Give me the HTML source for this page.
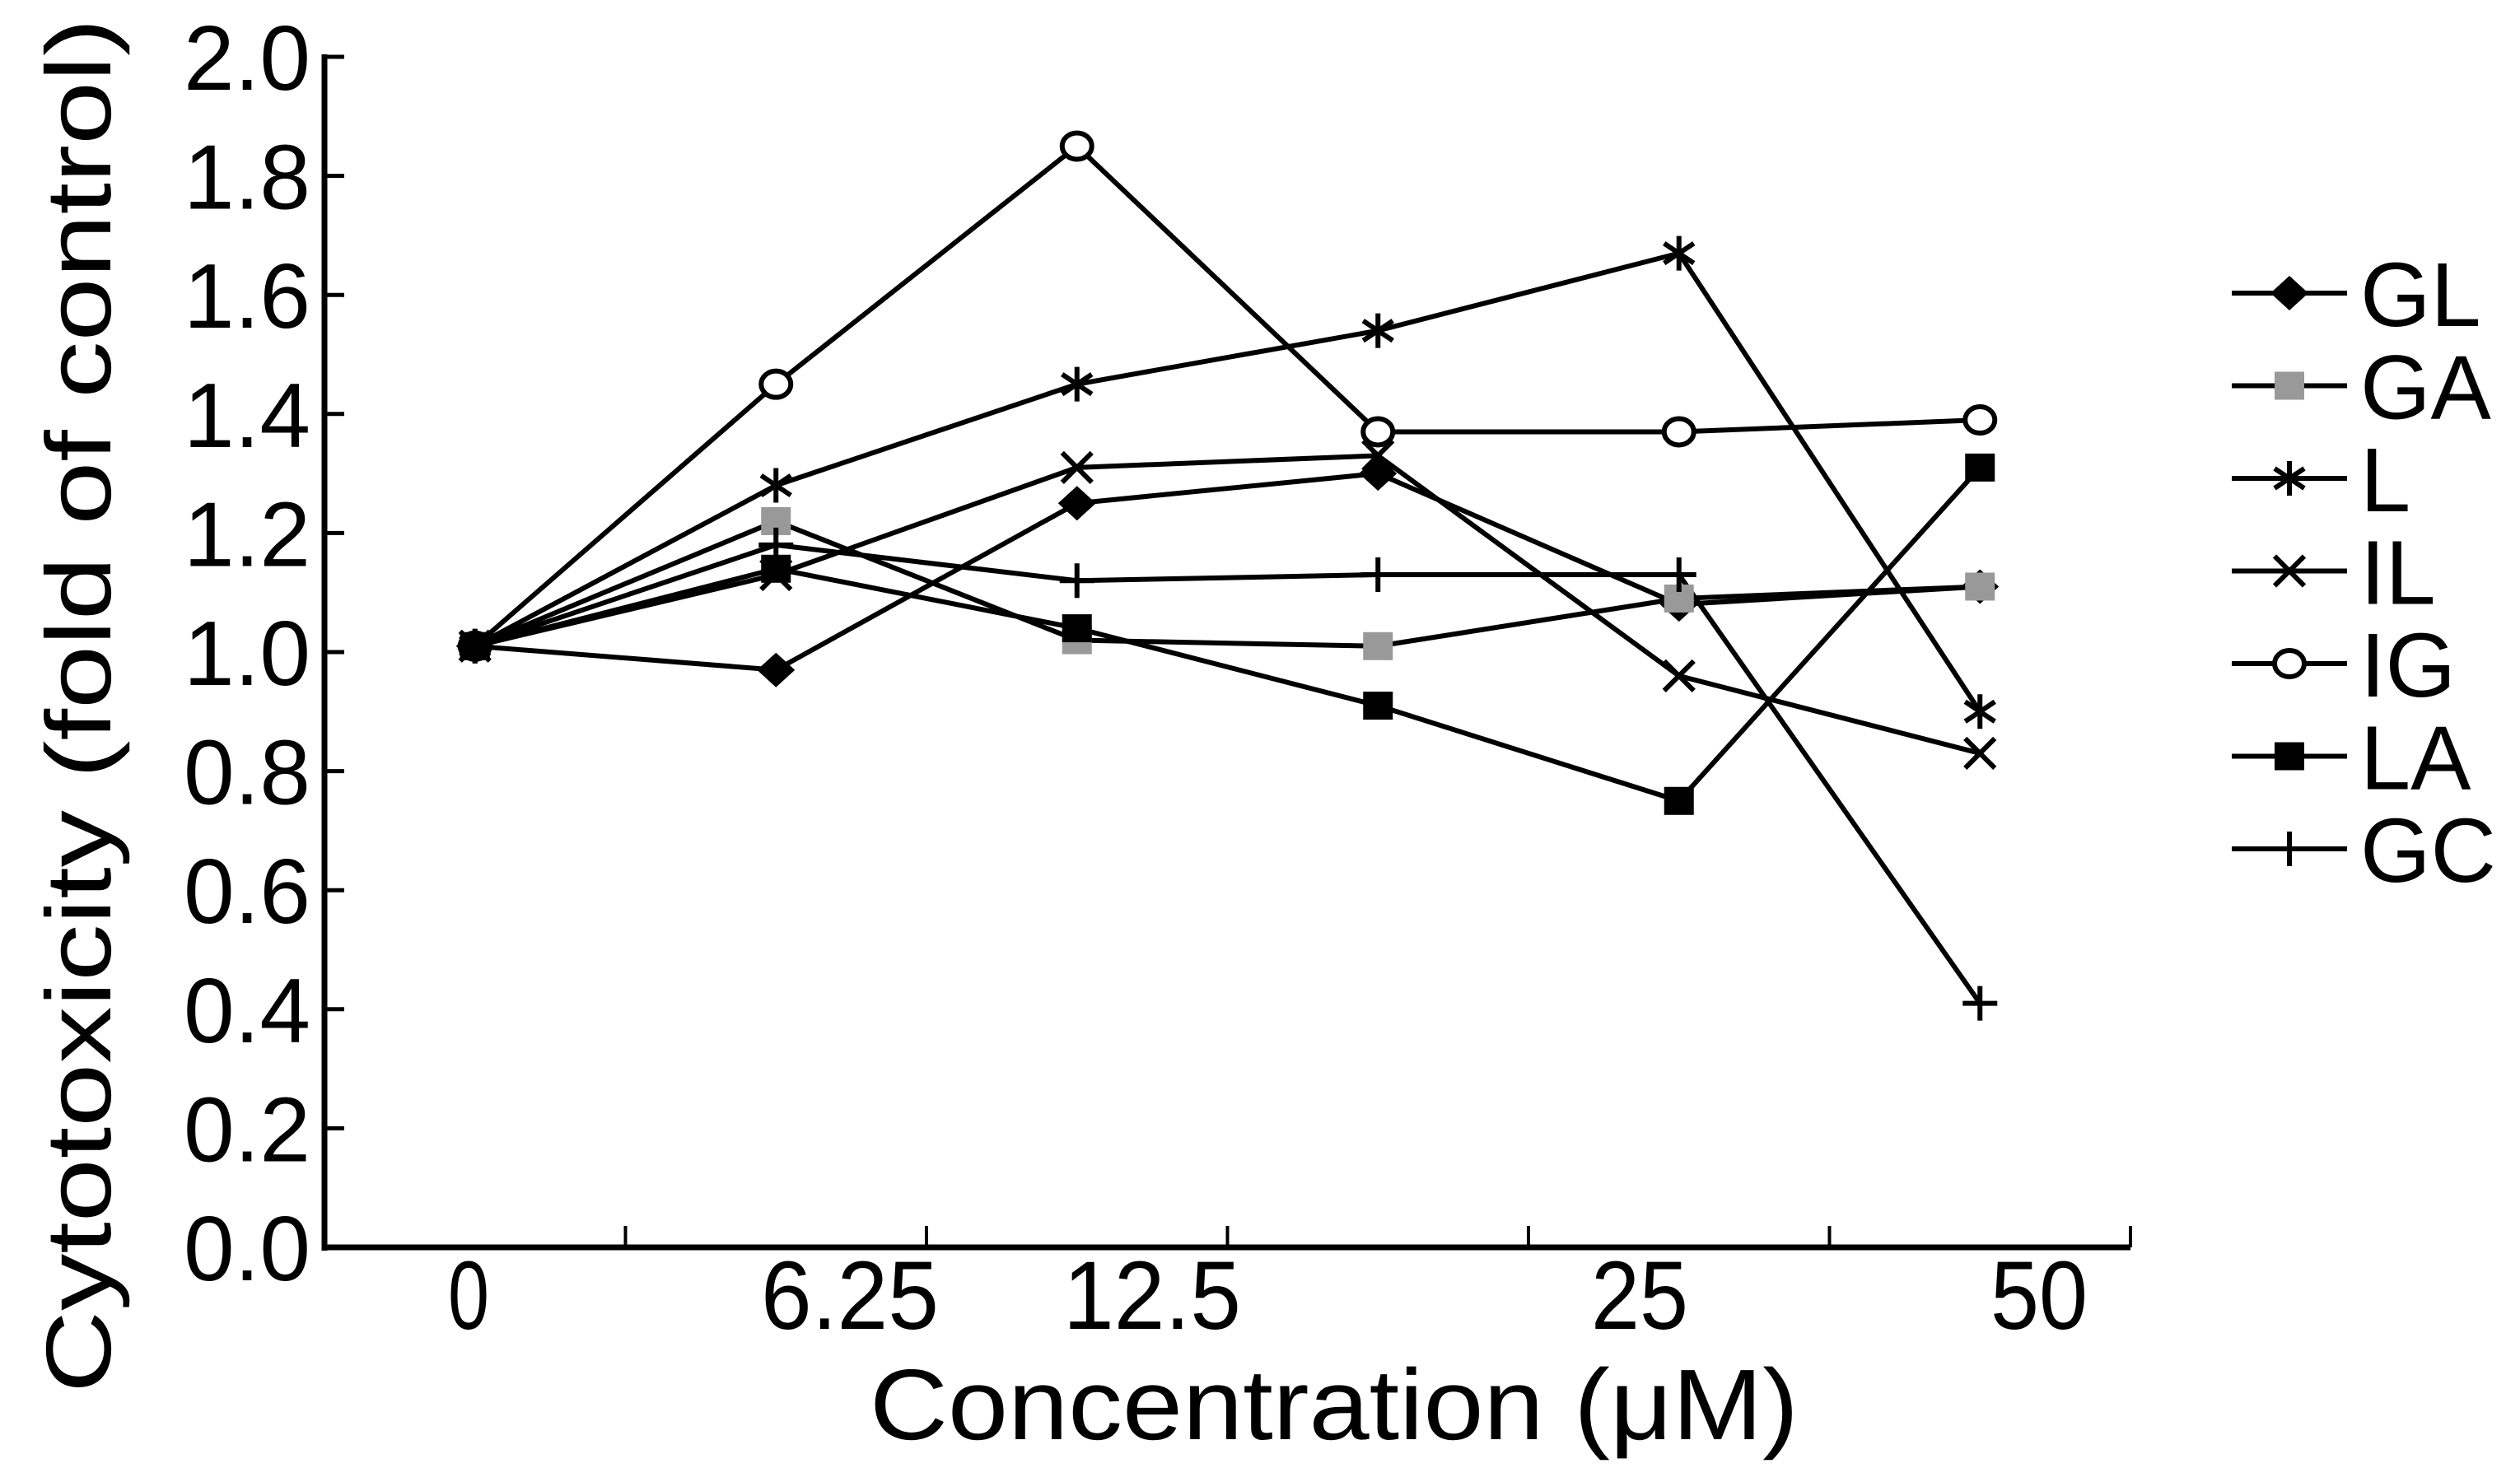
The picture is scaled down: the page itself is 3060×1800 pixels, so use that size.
<!DOCTYPE html>
<html><head><meta charset="utf-8"><style>html,body{margin:0;padding:0;background:#fff}svg{display:block}</style></head>
<body>
<svg id="chart" width="3060" height="1800" viewBox="0 0 3060 1800" xmlns="http://www.w3.org/2000/svg" font-family="Liberation Sans, sans-serif">
<g id="axes"></g>
<g id="series"></g>
<g id="legend"></g>
</svg>
<script>
const categories = ["0", "6.25", "12.5", "25", "50"];
const pointLabels = ["c0", "c1", "c2", "c3", "c4", "c5"];
const yTicks = ["0.0","0.2","0.4","0.6","0.8","1.0","1.2","1.4","1.6","1.8","2.0"];
const seriesNames = ["GL","GA","L","IL","IG","LA","GC"];
const GL = [1.01, 0.97, 1.25, 1.30, 1.08, 1.11];
const GA = [1.01, 1.22, 1.02, 1.01, 1.09, 1.11];
const L  = [1.01, 1.28, 1.45, 1.54, 1.67, 0.90];
const IL = [1.01, 1.13, 1.31, 1.33, 0.96, 0.83];
const IG = [1.01, 1.45, 1.85, 1.37, 1.37, 1.39];
const LA = [1.01, 1.14, 1.04, 0.91, 0.75, 1.31];
const GC = [1.01, 1.18, 1.12, 1.13, 1.13, 0.41];

const NS = "http://www.w3.org/2000/svg";
const X0 = 394, BIN = 365.5, Y0 = 1515, Y1 = 69;
function xPos(i){ return X0 + BIN*(i+0.5); }
function yPos(v){ return Y0 - (v/2.0)*(Y0-Y1); }
function mk(tag, attrs, parent){ const e=document.createElementNS(NS,tag); for(const k in attrs) e.setAttribute(k,attrs[k]); parent.appendChild(e); return e; }

const axes = document.getElementById('axes');
let e;
e = mk('line',{x1:X0,y1:Y1-3,x2:X0,y2:Y0+4,stroke:'#000','stroke-width':7},axes);


e = mk('line',{x1:X0-3,y1:Y0,x2:X0+BIN*6,y2:Y0,stroke:'#000','stroke-width':7},axes);


yTicks.forEach((t,i)=>{
  const v = parseFloat(t), y = yPos(v);
  const tk = mk('line',{x1:X0,y1:y,x2:X0+24,y2:y,stroke:'#000','stroke-width':5},axes);
  
  
  const tx = mk('text',{x:377,y:y+40,'text-anchor':'end','font-size':111,textLength:154,lengthAdjust:'spacingAndGlyphs'},axes);
  tx.textContent = t;
  
  
});
for(let k=1;k<=6;k++){
  const x = X0 + BIN*k;
  const tk = mk('line',{x1:x,y1:Y0,x2:x,y2:Y0-26,stroke:'#000','stroke-width':4},axes);
  
  
}
const catX = [569, 1032, 1399, 1991, 2476];
const catW = [50, 216, 216, 118, 118];
categories.forEach((c,i)=>{
  const tx = mk('text',{x:catX[i],y:1614,'text-anchor':'middle','font-size':118,textLength:catW[i],lengthAdjust:'spacingAndGlyphs'},axes);
  tx.textContent = c;
  
  
});
e = mk('text',{x:1620,y:1748,'text-anchor':'middle','font-size':122,textLength:1128,lengthAdjust:'spacingAndGlyphs'},axes);
e.textContent = 'Concentration (\u03BCM)';


e = mk('text',{x:0,y:0,'text-anchor':'middle','font-size':112,textLength:1670,lengthAdjust:'spacingAndGlyphs',transform:'translate(134,857) rotate(-90)'},axes);
e.textContent = 'Cytotoxicity (fold of control)';



function marker(type, x, y, parent){
  const g = mk('g',{},parent);
  const s = 18;
  if(type==='diamond') mk('polygon',{points:`${x},${y-21} ${x+23},${y} ${x},${y+21} ${x-23},${y}`,fill:'#000'},g);
  else if(type==='gsquare') mk('rect',{x:x-18,y:y-17,width:36,height:34,fill:'#999'},g);
  else if(type==='bsquare') mk('rect',{x:x-18,y:y-17,width:36,height:34,fill:'#000'},g);
  else if(type==='circle') mk('ellipse',{cx:x,cy:y,rx:18,ry:16,fill:'#fff',stroke:'#000','stroke-width':6},g);
  else if(type==='x'){ mk('path',{d:`M${x-s},${y-s}L${x+s},${y+s}M${x-s},${y+s}L${x+s},${y-s}`,stroke:'#000','stroke-width':6},g); }
  else if(type==='star'){ mk('path',{d:`M${x},${y-21}V${y+21}M${x-s},${y-12}L${x+s},${y+12}M${x-s},${y+12}L${x+s},${y-12}`,stroke:'#000','stroke-width':6},g); }
  else if(type==='plus'){ mk('path',{d:`M${x},${y-21}V${y+21}M${x-21},${y}H${x+21}`,stroke:'#000','stroke-width':6},g); }
  return g;
}
const seriesData = [GL,GA,L,IL,IG,LA,GC];
const markerTypes = ['diamond','gsquare','star','x','circle','bsquare','plus'];
const seriesG = document.getElementById('series');
seriesData.forEach((vals,si)=>{
  const g = mk('g',{},seriesG);
  
  
  const pts = vals.map((v,i)=>xPos(i)+','+yPos(v)).join(' ');
  const pl = mk('polyline',{points:pts,fill:'none',stroke:'#000','stroke-width':6},g);
  
  
});
seriesData.forEach((vals,si)=>{
  vals.forEach((v,i)=>{
    const m = marker(markerTypes[si], xPos(i), yPos(v), seriesG);
    
    
  });
});
const legend = document.getElementById('legend');
seriesNames.forEach((n,i)=>{
  const y = 356 + 112.5*i;
  const g = mk('g',{},legend);
  
  
  mk('line',{x1:2710,y1:y,x2:2850,y2:y,stroke:'#000','stroke-width':6},g);
  marker(markerTypes[i], 2780, y, g);
  const t = mk('text',{x:2866,y:y+40,'font-size':110},g);
  t.textContent = n;
});
</script>
</body></html>
